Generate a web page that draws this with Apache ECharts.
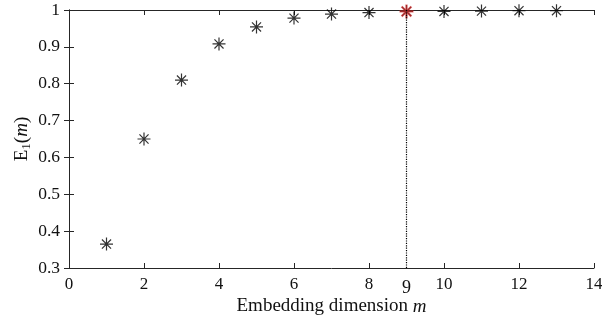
<!DOCTYPE html>
<html><head><meta charset="utf-8">
<script src="https://cdn.jsdelivr.net/npm/echarts@6/dist/echarts.min.js"></script>
<style>html,body{margin:0;padding:0;background:#fff}#c{width:602px;height:322px}</style>
</head><body><div id="c"></div>
<script>
const dims = [1,2,3,4,5,6,7,8,9,10,11,12,13];
const e1Values = [0.365,0.650,0.810,0.908,0.954,0.978,0.989,0.993,0.996,0.996,0.997,0.998,0.998];
const chosenDim = 9;
const chosenValue = 0.996;
const xTicks = [0,2,4,6,8,10,12,14];
const yTicks = [0.3,0.4,0.5,0.6,0.7,0.8,0.9,1];

const star = 'path://M0,-1L0,1M-1,0L1,0M-0.7,-0.7L0.7,0.7M-0.7,0.7L0.7,-0.7';
const font = 'Liberation Serif';
const axisCol = '#262626';
const chart = echarts.init(document.getElementById('c'));
chart.setOption({
  animation:false,
  grid:{left:69,right:8,top:10,bottom:54,containLabel:false,outerBoundsMode:'none'},
  xAxis:[{
    type:'value',min:0,max:14,interval:2,position:'bottom',
    axisLine:{lineStyle:{color:axisCol,width:1}},
    axisTick:{inside:true,length:5,lineStyle:{color:axisCol}},
    axisLabel:{color:'#111',fontFamily:font,fontSize:17,margin:8,
      formatter:v=>xTicks.includes(v)?String(v):''},
    splitLine:{show:false},
    name:'{n|Embedding dimension }{i|m}',nameLocation:'middle',nameGap:29,nameMoveOverlap:false,
    nameTextStyle:{rich:{n:{fontFamily:font,fontSize:19,color:'#111'},i:{fontFamily:font,fontSize:19,fontStyle:'italic',color:'#111'}}}
  },{
    type:'value',min:0,max:14,interval:2,position:'top',
    axisLine:{lineStyle:{color:axisCol}},
    axisTick:{inside:true,length:5,lineStyle:{color:axisCol}},
    axisLabel:{show:false},splitLine:{show:false}
  }],
  yAxis:[{
    type:'value',min:0.3,max:1,interval:0.1,position:'left',
    axisLine:{show:true,lineStyle:{color:axisCol}},
    axisTick:{show:true,inside:true,length:5,lineStyle:{color:axisCol}},
    axisLabel:{color:'#111',fontFamily:font,fontSize:17.5,margin:9,
      formatter:v=>{const r=Math.round(v*10)/10; return yTicks.includes(r)?String(r):'';}},
    splitLine:{show:false},
    name:'{n|E}{s|1}{n|(}{i|m}{n|)}',nameLocation:'middle',nameGap:36,nameRotate:90,nameMoveOverlap:false,
    nameTextStyle:{rich:{
      n:{fontFamily:font,fontSize:19,color:'#111'},
      i:{fontFamily:font,fontSize:19,fontStyle:'italic',color:'#111'},
      s:{fontFamily:font,fontSize:13,color:'#111',verticalAlign:'bottom',padding:[9,0,0,0]}}}
  },{
    type:'value',min:0.3,max:1,interval:0.1,position:'right',
    axisLine:{show:true,lineStyle:{color:axisCol}},
    axisTick:{show:true,inside:true,length:5,lineStyle:{color:axisCol}},
    axisLabel:{show:false},splitLine:{show:false}
  }],
  series:[{
    type:'scatter',xAxisIndex:0,yAxisIndex:0,
    data:dims.map((d,i)=>[d,e1Values[i]]),
    symbol:star,symbolSize:13,
    itemStyle:{color:'#000',borderColor:'#000',borderWidth:1.2},
    markLine:{
      silent:true,symbol:'none',
      lineStyle:{color:'#000',type:'dotted',width:1.2},
      label:{show:true,position:'start',formatter:String(chosenDim),fontFamily:font,fontSize:18,color:'#111',distance:11},
      data:[[{coord:[chosenDim,0.3]},{coord:[chosenDim,1]}]]
    },
    z:3
  },{
    type:'scatter',xAxisIndex:0,yAxisIndex:0,
    data:[[chosenDim,chosenValue]],
    symbol:star,symbolSize:14,
    itemStyle:{color:'#d03030',borderColor:'rgba(210,40,40,0.85)',borderWidth:2.2},
    z:4
  }]
});
</script></body></html>
